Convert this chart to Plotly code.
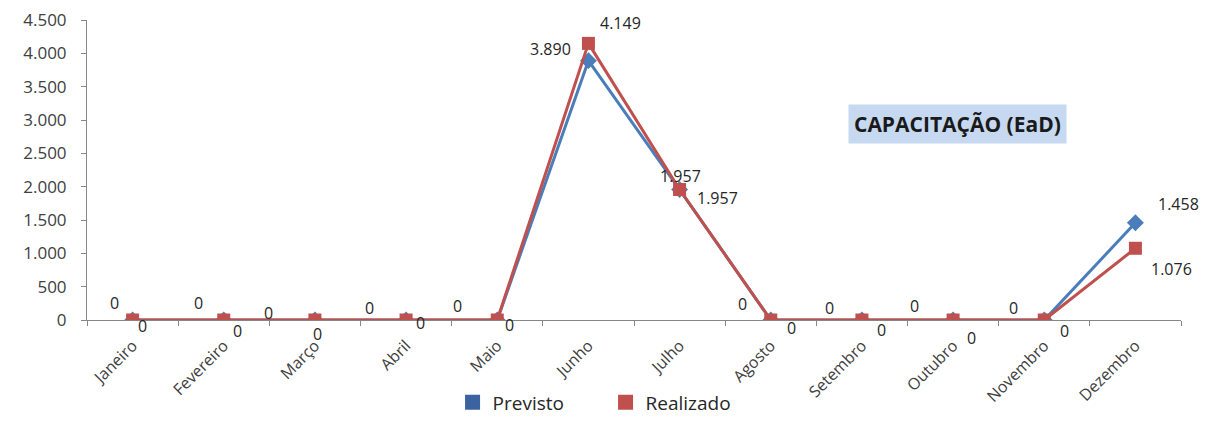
import plotly.graph_objects as go

meses = ["Janeiro", "Fevereiro", "Março", "Abril", "Maio", "Junho", "Julho",
         "Agosto", "Setembro", "Outubro", "Novembro", "Dezembro"]
previsto = [0, 0, 0, 0, 0, 3890, 1957, 0, 0, 0, 0, 1458]
realizado = [0, 0, 0, 0, 0, 4149, 1957, 0, 0, 0, 0, 1076]
y_ticks = [0, 500, 1000, 1500, 2000, 2500, 3000, 3500, 4000, 4500]
titulo = "CAPACITAÇÃO (EaD)"

# label offsets (pixels) – styling only
prev_off = [(-18, 17), (-25, 17), (-46, 7), (-37, 12), (-40, 14), (-38, 12), (38, -8),
            (-28, 16), (-32, 12), (-39, 14), (-31, 12), (43, 19)]
real_off = [(10, -6), (14, -11), (3, -14), (14, -3), (12, -5), (32, 20), (1, 14),
            (21, -8), (20, -10), (18, -18), (20, -11), (36, -21)]

BLUE = "#4A7EBB"
RED = "#C0504D"
FONT = "Open Sans"

def fmt(v):
    return f"{v:,}".replace(",", ".")

fig = go.Figure()
fig.add_trace(go.Scatter(x=meses, y=previsto, mode="lines+markers", name="Previsto",
                         line=dict(color=BLUE, width=3),
                         marker=dict(symbol="diamond", size=13, color=BLUE),
                         showlegend=False))
fig.add_trace(go.Scatter(x=meses, y=realizado, mode="lines+markers", name="Realizado",
                         line=dict(color=RED, width=3),
                         marker=dict(symbol="square", size=13, color=RED),
                         showlegend=False))
# legend entries (square swatches)
fig.add_trace(go.Scatter(x=[None], y=[None], mode="markers", name="Previsto",
                         marker=dict(symbol="square", size=15, color="#3A63A0")))
fig.add_trace(go.Scatter(x=[None], y=[None], mode="markers", name="Realizado",
                         marker=dict(symbol="square", size=15, color=RED)))

annotations = []
for m, v, (dx, dy) in zip(meses, previsto, prev_off):
    annotations.append(dict(x=m, y=v, text=fmt(v), showarrow=False, xshift=dx, yshift=dy,
                            font=dict(family=FONT, size=16, color="#262626")))
for m, v, (dx, dy) in zip(meses, realizado, real_off):
    annotations.append(dict(x=m, y=v, text=fmt(v), showarrow=False, xshift=dx, yshift=dy,
                            font=dict(family=FONT, size=16, color="#262626")))
annotations.append(dict(x=0.796, y=0.653, xref="paper", yref="paper", xanchor="center",
                        yanchor="middle", text="<b>" + titulo + "</b>",
                        showarrow=False, bgcolor="#C6D9F1", borderpad=5,
                        font=dict(family=FONT, size=21, color="#1a1a1a")))
fig.update_layout(annotations=annotations)

# the page body adds an 8px offset, so the figure is 8px smaller and margins compensate
fig.update_layout(
    width=1207, height=414,
    margin=dict(l=79, r=34, t=12, b=102, autoexpand=False),
    paper_bgcolor="white", plot_bgcolor="white",
    separators=",.",
    font=dict(family=FONT, size=16, color="#404040"),
    legend=dict(orientation="h", x=0.474, y=-0.338, xanchor="center", yanchor="bottom",
                font=dict(family=FONT, size=19, color="#262626"), itemwidth=30,
                entrywidth=108, entrywidthmode="pixels", tracegroupgap=0),
)
fig.update_xaxes(type="category", range=[-0.5, 11.5], tickangle=-45, tickson="boundaries",
                 ticks="outside", ticklen=5, tickcolor="#868686", showline=True,
                 linecolor="#868686", linewidth=1, showgrid=False, zeroline=False,
                 automargin=False, ticklabelstandoff=9,
                 tickfont=dict(family=FONT, size=16, color="#404040"))
fig.update_yaxes(range=[0, 4500], tickvals=y_ticks, tickformat=",d", ticks="outside",
                 ticklen=5, tickcolor="#868686", showline=True, linecolor="#868686",
                 linewidth=1, showgrid=False, zeroline=False, automargin=False,
                 ticklabelstandoff=11, ticklabeloverflow="allow",
                 tickfont=dict(family=FONT, size=17, color="#404040"))

fig.write_html("out.html")
